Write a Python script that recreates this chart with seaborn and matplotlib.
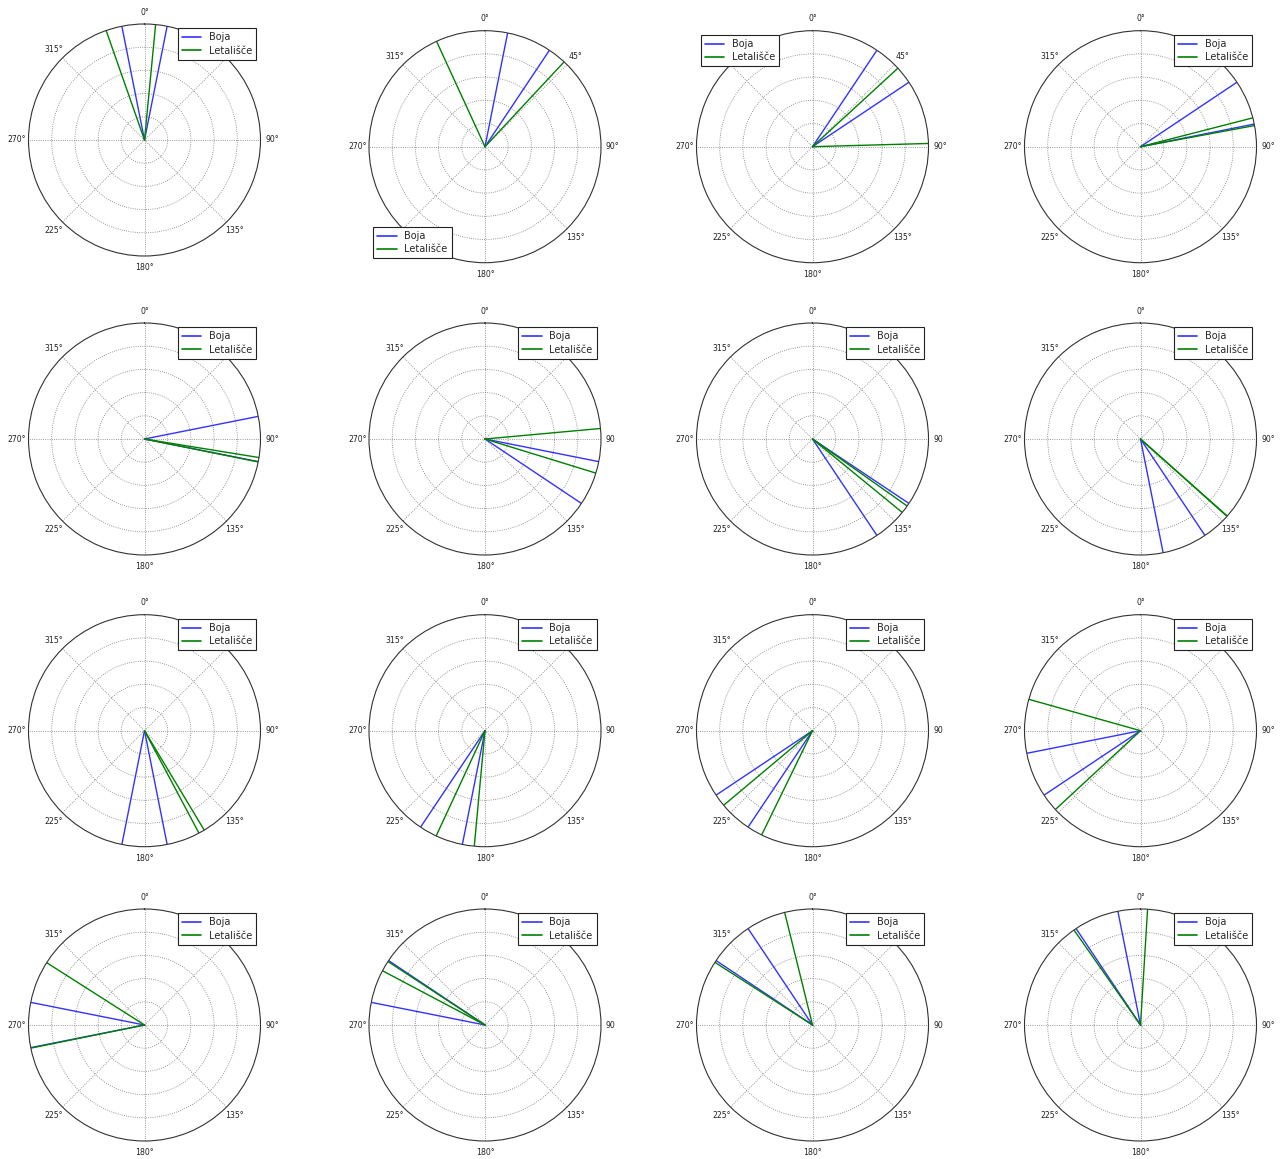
import numpy as np
import pandas as pd
import matplotlib
matplotlib.use("Agg")
import matplotlib.pyplot as plt
import seaborn as sns
from matplotlib.lines import Line2D
from matplotlib.transforms import Bbox

# Wind-direction sectors (degrees, clockwise from north) for 16 compass directions
boja_min = [348.75, 11.25, 33.75, 56.25, 78.75, 101.25, 123.75, 146.25,
            168.75, 191.25, 213.75, 236.25, 258.75, 281.25, 303.75, 326.25]
boja_max = [11.25, 33.75, 56.25, 78.75, 101.25, 123.75, 146.25, 168.75,
            191.25, 213.75, 236.25, 258.75, 281.25, 303.75, 326.25, 348.75]
letalisce_min = [340.7, 335.3, 47.4, 75.6, 99.2, 84.8, 125.3, 131.6,
                 149.0, 185.3, 206.0, 227.2, 258.5, 297.9, 302.7, 325.0]
letalisce_max = [5.5, 43.0, 88.4, 79.5, 101.4, 107.1, 129.3, 131.8,
                 152.0, 204.9, 230.0, 285.7, 302.5, 303.2, 346.1, 3.5]

series_names = ["Boja", "Letališče"]
series_colors = {"Boja": "#3333ff", "Letališče": "#008000"}
theta_labels = ["0°", "45°", "90°", "135°", "180°", "225°", "270°", "315°"]
legend_locs = ["upper right", "lower left", "upper left", "upper right"] + ["upper right"] * 12
# the angle label sitting under each legend corner
covered_label = {"upper right": 1, "lower left": 5, "upper left": 7}

# Long-format table: each direction is a ray from the centre (r=0) to the rim (r=1)
rows = []
for p in range(16):
    pairs = {"Boja": (boja_min[p], boja_max[p]),
             "Letališče": (letalisce_min[p], letalisce_max[p])}
    for name in series_names:
        for k, ang in enumerate(pairs[name]):
            for r in (0.0, 1.0):
                rows.append({"panel": p, "series": name, "ray": f"{name}-{k}",
                             "theta": np.deg2rad(ang), "r": r})
df = pd.DataFrame(rows)

sns.set_style("white")
plt.rcParams["font.family"] = ["DejaVu Sans"]

W, H = 1281, 1159
fig = plt.figure(figsize=(W / 100, H / 100), dpi=100)
fig.patch.set_facecolor("white")

R = 116.0
col_x = [144.5, 485.0, 812.5, 1140.5]
row_y = [146.7, 439.0, 730.7, 1025.0]
clip_x = {1: 615.0, 2: 943.0}

for p in range(16):
    i, j = divmod(p, 4)
    cx, cy = col_x[j], row_y[i]
    if p == 0:
        cy = 140.0
    rect = [(cx - R) / W, (H - cy - R) / H, 2 * R / W, 2 * R / H]
    ax = fig.add_axes(rect, projection="polar")
    ax.set_theta_zero_location("N")
    ax.set_theta_direction(-1)

    sub = df[df["panel"] == p]
    sns.lineplot(data=sub, x="theta", y="r", hue="series", units="ray",
                 estimator=None, sort=False, hue_order=series_names,
                 palette=series_colors, linewidth=1.0, legend=False, ax=ax)

    ax.set_xlabel("")
    ax.set_ylabel("")
    ax.set_ylim(0, 1)
    ax.set_yticks([0.2, 0.4, 0.6, 0.8])
    ax.set_yticklabels([])
    labels = list(theta_labels)
    labels[covered_label[legend_locs[p]]] = ""
    ax.set_xticks(np.deg2rad(np.arange(0, 360, 45)))
    ax.set_xticklabels(labels, fontsize=5.6, color="#222222")
    ax.tick_params(axis="x", pad=-2)
    ax.grid(True, color="#777777", linestyle=":", linewidth=0.6)
    ax.spines["polar"].set_color("#333333")
    ax.spines["polar"].set_linewidth(0.8)

    if i > 0 and j in clip_x:
        box = Bbox([[0, 0], [clip_x[j], H]])
        for lbl in ax.get_xticklabels():
            lbl.set_clip_box(box)
            lbl.set_clip_on(True)

    handles = [Line2D([], [], color=series_colors[n], linewidth=1.2) for n in series_names]
    leg = ax.legend(handles, series_names, loc=legend_locs[p], fontsize=7,
                    fancybox=False, framealpha=1, edgecolor="#222222",
                    borderpad=0.4, handlelength=2.0, handletextpad=0.8,
                    labelspacing=0.35, borderaxespad=0.45)
    leg.get_frame().set_linewidth(0.8)

fig.savefig("out.png", dpi=100, facecolor="white")
